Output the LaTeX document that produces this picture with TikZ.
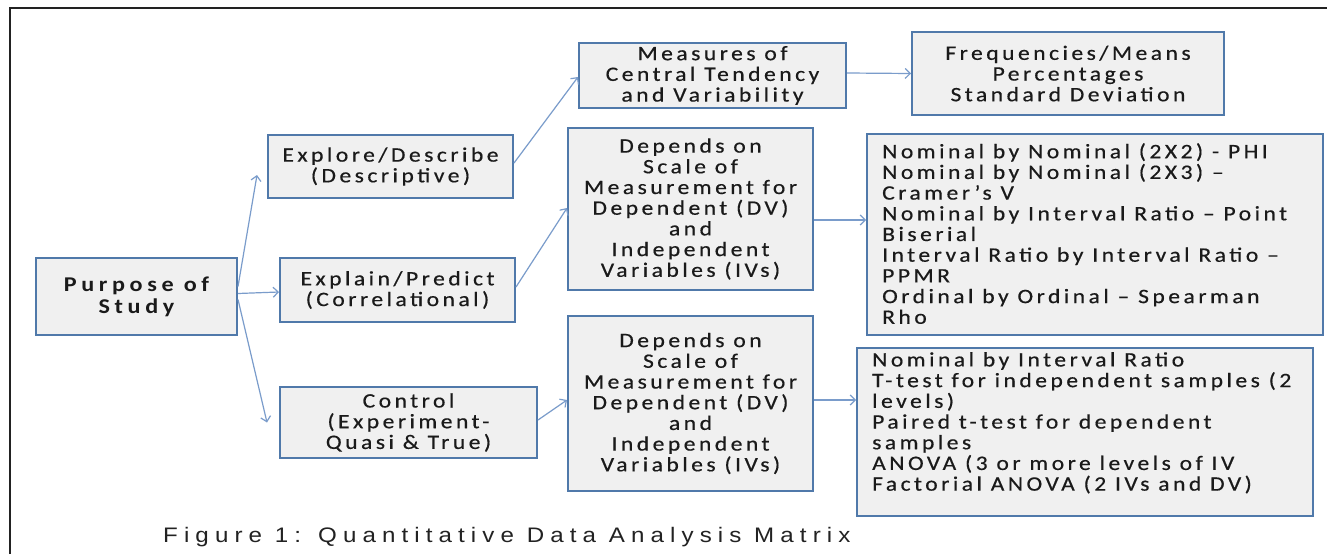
\documentclass[tikz,border=0pt]{standalone}
\usepackage{fontspec}
\newfontfamily\boxfont[LetterSpace=17,FakeStretch=1.15,FakeBold=0.5]{Carlito}
\newfontfamily\purposefont[LetterSpace=22,FakeStretch=1.15]{Carlito}
\newfontfamily\capfont[LetterSpace=29,FakeStretch=1.15]{Liberation Sans}
\usetikzlibrary{arrows.meta}
\definecolor{boxfill}{HTML}{F0F0F0}
\definecolor{boxline}{HTML}{5079AA}
\definecolor{arrowc}{HTML}{7A9CCB}
\definecolor{textc}{HTML}{1A1A1A}
\definecolor{framec}{HTML}{222222}
\tikzset{
  box/.style={draw=boxline, line width=2pt, fill=boxfill, inner sep=0pt,
    align=center, text=textc, font=\boxfont\fontsize{20.5}{20.7}\selectfont},
  listtext/.style={inner sep=0pt, align=left, anchor=north west, text=textc,
    font=\boxfont\fontsize{20.5}{20.7}\selectfont},
  arr/.style={draw=arrowc, line width=1.2pt,
    -{Straight Barb[length=5pt,width=10pt,line width=1.2pt]}},
}
\begin{document}
\begin{tikzpicture}[x=1pt,y=-1pt]
\useasboundingbox (0,0) rectangle (1327,554);
\fill[white] (0,0) rectangle (1327,554);
\draw[line width=2.2pt, color=framec] (10,554) -- (10,8) -- (1327,8);

\node[box, minimum width=201pt, minimum height=77pt, font=\purposefont\bfseries\fontsize{21}{22}\selectfont] (purpose) at (136.5,296.5) {Purpose of\\Study};
\node[box, minimum width=245pt, minimum height=63pt] (explore) at (390.5,166.5) {Explore/Describe\\(Descriptive)};
\node[box, minimum width=235pt, minimum height=64pt] (explain) at (397.5,290) {Explain/Predict\\(Correlational)};
\node[box, minimum width=257pt, minimum height=71pt] (control) at (408.5,422.5) {Control\\(Experiment-\\Quasi \& True)};
\node[box, minimum width=267pt, minimum height=65pt] (measures) at (712.5,75.5) {Measures of\\Central Tendency\\and Variability};
\node[box, minimum width=245pt, minimum height=162pt] (dep1) at (690.5,209) {Depends on\\Scale of\\Measurement for\\Dependent (DV)\\and\\Independent\\Variables (IVs)};
\node[box, minimum width=245pt, minimum height=175pt] (dep2) at (690.5,403.5) {Depends on\\Scale of\\Measurement for\\Dependent (DV)\\and\\Independent\\Variables (IVs)};
\node[box, minimum width=312pt, minimum height=83pt] (freq) at (1068,73.5) {Frequencies/Means\\Percentages\\Standard Deviation};
\node[box, minimum width=456pt, minimum height=201pt] (nom1) at (1095,234.5) {};
\node[box, minimum width=456pt, minimum height=168pt] (nom2) at (1085,432) {};
\node[listtext] (nom1txt) at ([xshift=16pt,yshift=-10pt]nom1.north west) {Nominal by Nominal (2X2) - PHI\\Nominal by Nominal (2X3) –\\Cramer’s V\\Nominal by Interval Ratio – Point\\Biserial\\Interval Ratio by Interval Ratio –\\PPMR\\Ordinal by Ordinal – Spearman\\Rho};
\node[listtext] (nom2txt) at ([xshift=16pt,yshift=-5pt]nom2.north west) {Nominal by Interval Ratio\\T-test for independent samples (2\\levels)\\Paired t-test for dependent\\samples\\ANOVA (3 or more levels of IV\\Factorial ANOVA (2 IVs and DV)};

\draw[arr] ([yshift=10pt]purpose.east) -- ([xshift=-10pt,yshift=-8.5pt]explore.west);
\draw[arr] ([yshift=3pt]purpose.east) -- ([yshift=-2pt]explain.west);
\draw[arr] ([yshift=-3pt]purpose.east) -- ([xshift=-12pt]control.west);
\draw[arr] ([yshift=3.5pt]explore.east) -- ([yshift=-1.5pt]measures.west);
\draw[arr] ([yshift=3pt]explain.east) -- ([yshift=1pt]dep1.west);
\draw[arr] ([yshift=2.5pt]control.east) -- ([yshift=3.5pt]dep2.west);
\draw[arr] ([yshift=2.5pt]measures.east) -- (freq.west);
\draw[arr] ([yshift=-11pt]dep1.east) -- ([yshift=14.5pt]nom1.west);
\draw[arr] ([yshift=3.5pt]dep2.east) -- ([yshift=32pt]nom2.west);

\node[anchor=base west, inner sep=0pt, text=framec, font=\capfont\fontsize{21}{22}\selectfont] (caption) at (163,542) {Figure 1: Quantitative Data Analysis Matrix};
\end{tikzpicture}
\end{document}
